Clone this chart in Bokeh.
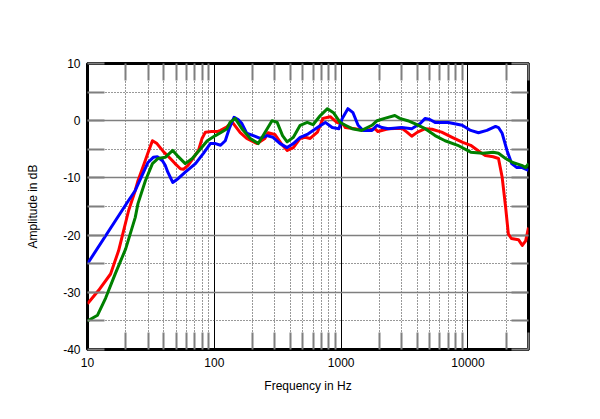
from bokeh.plotting import figure
from bokeh.models import FixedTicker, LogAxis, LinearAxis, PrintfTickFormatter, Range1d, CustomJSTickFormatter
from bokeh.embed import file_html
from bokeh.resources import INLINE

# ---- data ----
freq_red = [10, 12.2, 15.2, 17.6, 21.1, 23.8, 25, 28, 30, 32.5, 35.3, 40, 45, 49, 54, 57, 62, 68, 75, 80,
            85, 95, 105, 112, 125, 138, 160, 180, 218, 250, 265, 300, 345, 376, 420, 475, 520, 570, 650, 720,
            820, 925, 1040, 1080, 1280, 1540, 1850, 1950, 2350, 3000, 3300, 3600, 4000, 4600, 5200, 6200, 7500, 9100, 10500, 12500,
            13700, 15800, 17400, 18600, 19800, 20800, 22000, 25000, 26800, 28500, 30000]
db_red = [-32, -29.7, -26.8, -22.7, -15.7, -12.2, -10.5, -7.5, -5.6, -3.5, -4, -5.5, -6.6, -7.5, -8.4, -8.5, -7.8, -6.6, -5.2, -3.1,
          -2, -1.9, -1.9, -1.7, -1.1, -0.2, -2.1, -3.1, -4, -3.1, -2.1, -2.4, -4.3, -5.2, -4.7, -3.1, -2.9, -3.1, -2, 0.4,
          0.7, -0.3, -0.7, -1.2, -1.4, -1.7, -1.4, -1.9, -1.4, -1.3, -2, -2.7, -2, -1.4, -1.5, -2, -2.9, -3.8, -4.3, -5.5,
          -6.1, -6.3, -6.6, -9.9, -15.1, -19.8, -20.6, -20.8, -21.8, -21, -18.7]

freq_blue = [10, 21, 23.8, 30, 33, 35.5, 39, 41, 43, 47, 52, 59, 71, 82, 93, 102, 112, 122, 132, 143,
             154, 165, 180, 203, 230, 260, 290, 330, 375, 420, 475, 540, 650, 750, 850, 960, 1020, 1130, 1240, 1360,
             1490, 1750, 1920, 2100, 2350, 3000, 3600, 4200, 4600, 5000, 5500, 7000, 9000, 10500, 12100, 14100, 16500, 17400, 18600, 20300,
             22100, 24300, 26800, 30000]
db_blue = [-25, -14, -12.2, -7.3, -6.4, -6.3, -7, -7.8, -9, -10.8, -10.1, -9, -7.5, -5.7, -4.0, -4.0, -4.3, -3.5, -1.2, 0.6,
           0.2, -0.5, -2.2, -2.6, -3.1, -2.6, -2.9, -4, -4.7, -4, -2.9, -2.4, -1.2, -0.3, -1.2, -1.4, 0.4, 2.1, 1.4, -0.8,
           -1.7, -1.7, -0.8, -1.2, -1.4, -1.2, -1.4, -0.5, 0.4, 0.2, -0.3, -0.3, -0.8, -1.7, -2.1, -1.7, -1.0, -1.2, -2.2, -5.2,
           -7.5, -8.2, -8.2, -8.7]

freq_green = [10, 12, 13.9, 16.6, 20, 23.8, 25, 28.6, 32.5, 36, 41, 47, 51, 59, 67, 78, 88, 102, 112, 126,
              133, 146, 165, 192, 222, 250, 285, 313, 345, 375, 420, 475, 540, 600, 685, 780, 870, 980, 1080, 1220,
              1450, 1750, 1920, 2200, 2650, 2900, 3350, 3800, 4600, 5500, 6600, 8300, 10500, 13100, 15800, 17400, 19800, 22500, 26500, 28500,
              30000]
db_green = [-35, -34, -31, -26.7, -22.4, -16.9, -14.5, -10.5, -7.5, -6.6, -6.4, -5.2, -6.1, -7.5, -6.6, -4.9, -3.5, -2.6, -2.1, -1.4,
            -0.3, 0.4, -1.4, -3.1, -4, -2.1, 0, -0.3, -2.6, -3.7, -2.9, -0.8, -0.3, -0.7, 0.9, 2.1, 1.4, -0.3, -0.8, -1.4,
            -1.7, -0.8, 0, 0.4, 0.9, 0.4, 0, -0.5, -1.4, -2.6, -3.5, -4.3, -5.5, -5.7, -5.5, -5.7, -6.6, -7.3, -7.8, -8.2,
            -7.5]

x_major = [10, 100, 1000, 10000]
x_minor = [m * 10 ** e for e in range(1, 5) for m in range(2, 10) if m * 10 ** e <= 30000]
y_major = [-40, -30, -20, -10, 0, 10]
y_minor = [-35, -25, -15, -5, 5]

FONT = "Liberation Sans"

p = figure(width=584, height=403, x_axis_type="log",
           x_range=Range1d(10, 30000), y_range=Range1d(-40, 10),
           output_backend="svg", toolbar_location=None,
           min_border_left=87, min_border_right=56, min_border_top=63, min_border_bottom=54,
           background_fill_color="white", border_fill_color="white")

bottom = p.below[0]
left = p.left[0]

xt = FixedTicker(ticks=x_major, minor_ticks=x_minor)
yt = FixedTicker(ticks=y_major, minor_ticks=y_minor)

bottom.ticker = xt
left.ticker = yt
bottom.formatter = PrintfTickFormatter(format="%d")
left.formatter = PrintfTickFormatter(format="%d")

p.xgrid.ticker = xt
p.ygrid.ticker = yt
p.xgrid.grid_line_color = "black"
p.xgrid.grid_line_width = 1
p.xgrid.minor_grid_line_color = "#333333"
p.xgrid.minor_grid_line_dash = "1 2"
p.xgrid.minor_grid_line_width = 1
p.ygrid.grid_line_color = "#7f7f7f"
p.ygrid.grid_line_width = 1.5
p.ygrid.minor_grid_line_color = "#333333"
p.ygrid.minor_grid_line_dash = "1 2"
p.ygrid.minor_grid_line_width = 1

top = LogAxis(ticker=xt, formatter=CustomJSTickFormatter(code="return ''"))
right = LinearAxis(ticker=yt, formatter=CustomJSTickFormatter(code="return ''"))
p.add_layout(top, "above")
p.add_layout(right, "right")

for ax in [bottom, top]:
    ax.major_tick_line_color = None
for ax in [left, right]:
    ax.major_tick_line_color = "#7f7f7f"
    ax.major_tick_line_width = 2
    ax.major_tick_in = 17
    ax.major_tick_out = 0

for ax in [bottom, top, left, right]:
    ax.axis_line_color = None
    ax.minor_tick_line_color = "#7f7f7f"
    ax.minor_tick_line_width = 2
    ax.minor_tick_in = 17
    ax.minor_tick_out = 0
    ax.major_tick_out = 0
    ax.major_label_text_font = FONT
    ax.major_label_text_font_size = "12px"
    ax.major_label_text_color = "black"

for ax in [top, right]:
    ax.major_label_standoff = 0

bottom.major_label_standoff = 8
left.major_label_standoff = 7
bottom.axis_label = "Frequency in Hz"
left.axis_label = "Amplitude in dB"
for ax in [bottom, left]:
    ax.axis_label_text_font = FONT
    ax.axis_label_text_font_size = "12px"
    ax.axis_label_text_font_style = "normal"
    ax.axis_label_text_color = "black"
bottom.axis_label_standoff = 9
left.axis_label_standoff = 20

p.outline_line_color = "black"
p.outline_line_width = 3

p.line(freq_red, db_red, line_color="#ff0000", line_width=3, line_join="round")
p.line(freq_blue, db_blue, line_color="#0000ff", line_width=3, line_join="round")
p.line(freq_green, db_green, line_color="#008000", line_width=3, line_join="round")

open("out.html", "w").write(file_html(p, INLINE))
